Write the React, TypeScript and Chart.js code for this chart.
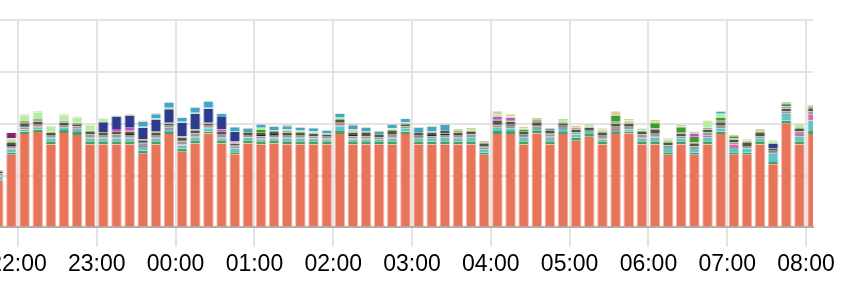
import React, { useEffect, useRef } from 'react';
import { Chart, registerables } from 'chart.js';

Chart.register(...registerables);

// bar start times (10-minute buckets)
const bucketStarts = [
  '21:40', '21:50', '22:00', '22:10', '22:20', '22:30', '22:40', '22:50', '23:00', '23:10',
  '23:20', '23:30', '23:40', '23:50', '00:00', '00:10', '00:20', '00:30', '00:40', '00:50',
  '01:00', '01:10', '01:20', '01:30', '01:40', '01:50', '02:00', '02:10', '02:20', '02:30',
  '02:40', '02:50', '03:00', '03:10', '03:20', '03:30', '03:40', '03:50', '04:00', '04:10',
  '04:20', '04:30', '04:40', '04:50', '05:00', '05:10', '05:20', '05:30', '05:40', '05:50',
  '06:00', '06:10', '06:20', '06:30', '06:40', '06:50', '07:00', '07:10', '07:20', '07:30',
  '07:40', '07:50', '08:00',
];

const hourTicks = ['22:00', '23:00', '00:00', '01:00', '02:00', '03:00', '04:00', '05:00', '06:00', '07:00', '08:00'];

const orange = [
  4.5, 7.0, 9.0, 9.2, 8.0, 9.1, 8.9, 8.0, 8.0, 8.0,
  8.0, 7.1, 8.0, 9.0, 7.3, 8.1, 9.05, 8.1, 7.05, 8.1,
  8.0, 8.1, 8.0, 8.0, 8.0, 8.0, 9.0, 8.0, 8.0, 8.0,
  8.0, 9.0, 8.0, 8.0, 8.0, 8.0, 8.0, 7.0, 9.0, 9.0,
  8.0, 9.05, 8.0, 9.0, 8.35, 8.75, 8.0, 9.0, 9.05, 8.0,
  8.0, 7.0, 8.0, 7.0, 8.0, 9.0, 7.0, 7.0, 8.0, 6.1,
  10.0, 8.0, 9.0,
];
const green = [
  .15, .2, .25, .25, .3, .3, .3, .3, .3, .3,
  .3, .3, .3, .2, .3, .3, .2, .3, .2, .3,
  .3, .3, .3, .3, .3, .3, .3, .3, .3, .3,
  .3, .25, .3, .25, .3, .25, .3, .2, .3, .3,
  .3, .25, .3, .2, .3, .25, .3, .2, .2, .3,
  .3, .25, .3, .2, .3, .25, .25, .2, .3, .2,
  .3, .3, .3,
];
const teal = [
  .25, .3, .15, .15, .3, .2, .3, .3, .3, .3,
  .3, .35, .3, .3, .3, .3, .3, .2, .3, .25,
  .2, .2, .3, .3, .25, .2, .45, .2, .2, .2,
  .3, .3, .25, .3, .35, .3, .4, .3, .3, .25,
  .35, .2, .35, .3, .3, .2, .2, .1, .2, .3,
  .4, .4, .3, .35, .4, .3, .4, .4, .3, .8,
  .65, .5, 1.0,
];
const pink = [
  .1, .1, .05, .1, .05, 0, .05, .05, .05, .1,
  .1, .1, .1, .1, .1, .1, .1, .1, .05, .05,
  .1, .05, .1, .05, .05, .05, .1, .05, .1, 0,
  .1, 0, 0, 0, 0, .1, 0, 0, 0, 0,
  0, 0, .1, 0, 0, 0, .1, .1, 0, .1,
  .1, 0, 0, 0, .15, 0, .35, 0, 0, 0,
  0, .2, .6,
];
const gray = [
  .2, .25, .2, .2, .25, .2, .2, .3, .2, .25,
  .2, .25, .2, .2, .3, .25, .15, .3, .2, .2,
  .2, .2, .2, .2, .2, .2, .25, .25, .2, .2,
  .3, .2, .2, .25, .25, .25, .25, .2, .25, .25,
  .2, .25, .2, .2, .2, .2, .25, .3, .25, .25,
  .3, .25, .2, .25, .3, .25, .2, .25, .2, .2,
  .25, .25, .3,
];
const darkNavy = [
  0, .1, .1, 0, 0, 0, 0, 0, 0, 0,
  .1, .1, 0, 0, .1, 0, 0, 0, .1, 0,
  .1, .15, 0, 0, 0, 0, 0, .1, 0, 0,
  0, 0, .1, .1, .15, 0, 0, .1, .1, .1,
  .1, .1, .1, .1, 0, 0, 0, 0, 0, 0,
  0, 0, 0, 0, 0, 0, 0, 0, 0, .1,
  0, 0, 0,
];
const olive = [
  .15, .2, .3, .3, .25, .3, .2, .25, .25, .25,
  .25, .2, .25, .2, .25, .25, .2, .2, .2, .2,
  .2, .2, .25, .25, .25, .2, .25, .25, .3, .2,
  .3, .2, .25, .25, .25, .25, .25, .25, .3, .3,
  .25, .3, .25, .25, .3, .2, .25, .3, .3, .25,
  .3, .25, .25, .25, .3, .35, .25, .3, .3, .15,
  .25, .25, .3,
];
const gray2 = [
  .15, .15, .2, .25, .1, .2, .15, .15, .1, .1,
  .15, .1, .15, .1, .15, .15, .1, .1, .1, .1,
  .1, .1, .15, .15, .1, .1, .1, .1, .15, .1,
  .15, .1, .1, .1, .1, .15, .15, .15, .2, .15,
  .1, .2, .1, .1, .15, .1, .15, .2, .15, .15,
  .15, .15, .15, .15, .15, .2, .15, .15, .15, .1,
  .2, .15, .15,
];
const brightGreen = [
  0, 0, 0, 0, 0, 0, 0, 0, 0, 0,
  0, 0, 0, 0, 0, 0, 0, 0, 0, 0,
  .25, 0, 0, 0, 0, 0, 0, 0, 0, 0,
  0, 0, 0, 0, 0, 0, 0, 0, 0, 0,
  .15, 0, 0, 0, 0, 0, 0, .6, 0, 0,
  .5, 0, .45, .55, 0, .25, .2, 0, .1, 0,
  .15, 0, .1,
];
const magenta = [
  0, 0, 0, 0, 0, 0, 0, 0, 0, .2,
  .2, 0, 0, 0, 0, 0, 0, .15, .1, 0,
  0, 0, 0, 0, 0, 0, 0, .1, 0, 0,
  0, 0, 0, 0, 0, 0, 0, 0, .25, .2,
  0, 0, 0, 0, 0, 0, .05, 0, 0, 0,
  0, 0, 0, .3, 0, 0, 0, 0, 0, 0,
  0, 0, 0,
];
const navy = [
  0, 0, 0, 0, 0, 0, 0, 0, .95, 1.2,
  1.2, 1.1, 1.1, 1.3, 1.3, 1.5, 1.35, 1.2, .9, 0,
  0, 0, 0, 0, 0, 0, 0, 0, 0, 0,
  0, 0, 0, 0, 0, 0, 0, 0, 0, 0,
  0, 0, 0, 0, 0, 0, 0, 0, 0, 0,
  0, 0, 0, 0, 0, 0, 0, 0, 0, .45,
  0, 0, 0,
];
const lightGreen = [
  0, .25, .55, .65, .5, .5, .5, .5, .3, 0,
  0, .1, .1, .15, .1, .1, .1, 0, .1, 0,
  .15, .1, .15, .15, .1, 0, .2, .15, 0, 0,
  .1, .1, 0, 0, 0, .1, .15, 0, .2, .15,
  .1, 0, 0, .2, 0, .2, .15, 0, .15, .2,
  .15, .2, .1, 0, .6, .35, 0, .1, 0, .2,
  0, .25, 0,
];
const steelBlue = [
  0, 0, 0, 0, 0, 0, 0, 0, 0, 0,
  0, .5, .4, .5, .35, .5, .6, .3, .35, .3,
  .3, .3, .3, .2, .3, .3, .3, .35, .35, .2,
  .35, .3, .4, .45, .5, 0, 0, 0, 0, 0,
  0, 0, .1, 0, 0, 0, 0, 0, 0, 0,
  0, 0, 0, 0, 0, .2, 0, 0, 0, 0,
  .1, 0, 0,
];
const khaki = [
  0, .05, .1, .1, .05, .1, .1, .05, .05, .1,
  .1, .1, .1, .05, .05, .05, .05, .05, .05, .1,
  .1, .1, .15, .1, .05, .05, .05, .15, .1, .1,
  .1, .05, .1, .1, .1, .1, .1, .15, .3, .2,
  .15, .2, .1, .1, .2, .1, .1, .4, .15, 0,
  .15, .1, .15, .2, .1, .1, .1, .1, .15, .1,
  .2, .1, .05,
];
const purple = [
  0, .5, 0, 0, 0, 0, 0, 0, 0, 0,
  0, 0, 0, 0, 0, 0, 0, 0, 0, 0,
  0, 0, 0, 0, 0, 0, 0, 0, 0, 0,
  0, 0, 0, 0, 0, 0, 0, 0, 0, 0,
  0, 0, 0, 0, 0, 0, 0, 0, 0, 0,
  0, 0, 0, 0, 0, 0, 0, 0, 0, 0,
  0, 0, 0,
];

const seriesList: { name: string; values: number[]; color: string; edge: string }[] = [
  { name: 'orange', values: orange, color: '#e8745a', edge: 'rgba(232,116,90,0.55)' },
  { name: 'green', values: green, color: '#4a9e5e', edge: 'rgba(74,158,94,0.5)' },
  { name: 'teal', values: teal, color: '#62c4c8', edge: 'rgba(98,196,200,0.5)' },
  { name: 'pink', values: pink, color: '#df6a9c', edge: 'rgba(223,106,156,0.5)' },
  { name: 'gray', values: gray, color: '#9a9a96', edge: 'rgba(154,154,150,0.5)' },
  { name: 'darkNavy', values: darkNavy, color: '#1e2442', edge: 'rgba(30,36,66,0.5)' },
  { name: 'olive', values: olive, color: '#4e5a3e', edge: 'rgba(78,90,62,0.5)' },
  { name: 'gray2', values: gray2, color: '#aaa896', edge: 'rgba(170,168,150,0.5)' },
  { name: 'brightGreen', values: brightGreen, color: '#3e9a2a', edge: 'rgba(62,154,42,0.5)' },
  { name: 'magenta', values: magenta, color: '#cc46dc', edge: 'rgba(204,70,220,0.5)' },
  { name: 'navy', values: navy, color: '#2e3b8c', edge: 'rgba(46,59,140,0.5)' },
  { name: 'lightGreen', values: lightGreen, color: '#b2f0a2', edge: 'rgba(178,240,162,0.5)' },
  { name: 'steelBlue', values: steelBlue, color: '#42a5cb', edge: 'rgba(66,165,203,0.5)' },
  { name: 'khaki', values: khaki, color: '#d8cc98', edge: 'rgba(216,204,152,0.5)' },
  { name: 'purple', values: purple, color: '#8a1f70', edge: 'rgba(138,31,112,0.5)' },
];

// minutes relative to 22:00 (times before noon belong to the next day)
function toMinutes(t: string): number {
  const [h, m] = t.split(':').map(Number);
  return (h < 12 ? h + 24 : h) * 60 + m - 22 * 60;
}

const BUCKET = 10;
const X_MIN = -13.7;
const X_MAX = 605.3;

export default function App() {
  const ref = useRef<HTMLCanvasElement>(null);

  useEffect(() => {
    if (!ref.current) return;
    const centers = bucketStarts.map((t) => toMinutes(t) + BUCKET / 2);
    const tickValues = hourTicks.map(toMinutes);
    const chart = new Chart(ref.current, {
      type: 'bar',
      data: {
        datasets: seriesList.map((s) => ({
          label: s.name,
          data: s.values.map((v, i) => ({ x: centers[i], y: v })),
          backgroundColor: s.color,
          borderColor: s.edge,
          borderWidth: { left: 1, right: 1, top: 0, bottom: 0 },
          borderSkipped: false,
          barPercentage: 0.8,
          categoryPercentage: 1,
          stack: 'all',
        })),
      },
      options: {
        animation: false,
        responsive: false,
        maintainAspectRatio: false,
        layout: { padding: { left: 60, right: 35, top: 20, bottom: 8 } },
        plugins: { legend: { display: false }, tooltip: { enabled: false } },
        scales: {
          x: {
            type: 'linear',
            stacked: true,
            min: X_MIN,
            max: X_MAX,
            offset: false,
            afterBuildTicks: (scale: any) => {
              scale.ticks = tickValues.map((v) => ({ value: v }));
            },
            ticks: {
              autoSkip: false,
              maxRotation: 0,
              padding: 4,
              color: '#000',
              font: { family: '"Liberation Sans", Arial, sans-serif', size: 23 },
              callback: (_v: any, i: number) => hourTicks[i],
            },
            grid: { color: '#e4e4e4', lineWidth: 2, tickLength: 19, offset: false },
            border: { display: true, color: '#b0b0b0', width: 2 },
          },
          y: {
            stacked: true,
            min: 0,
            max: 20,
            ticks: { display: false, stepSize: 5 },
            grid: { color: '#e4e4e4', lineWidth: 2, drawTicks: false },
            border: { display: false },
            afterFit: (scale: any) => {
              scale.width = 0;
            },
          },
        },
      },
    } as any);
    return () => chart.destroy();
  }, []);

  return (
    <div style={{ position: 'fixed', left: -60, top: 0, width: 908, height: 290, overflow: 'hidden' }}>
      <canvas ref={ref} width={908} height={290} style={{ display: 'block', width: 908, height: 290 }} />
    </div>
  );
}
